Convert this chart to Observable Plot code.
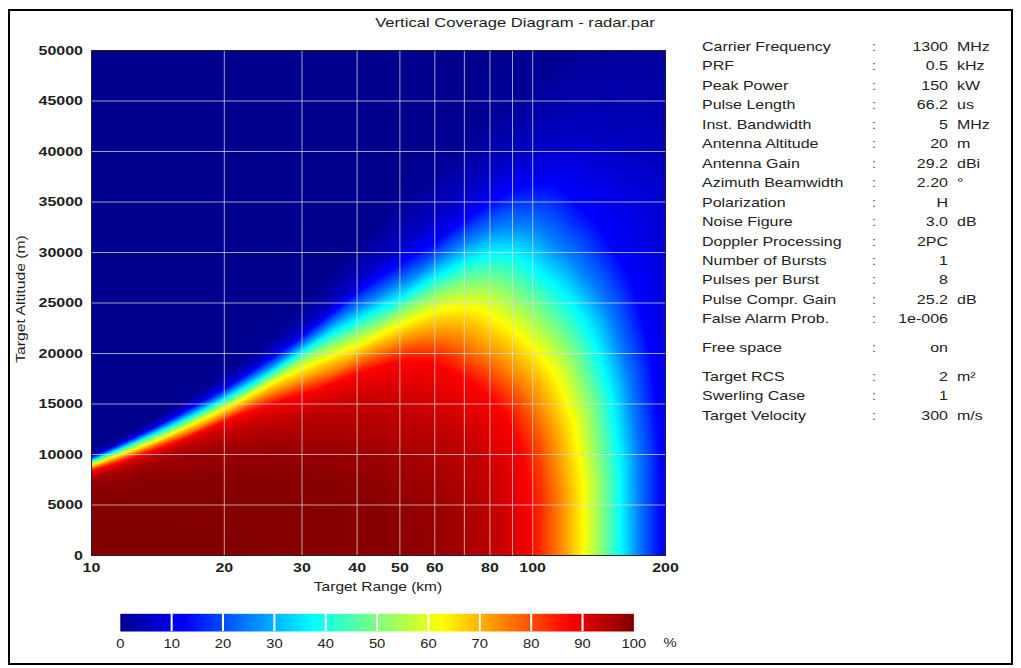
<!DOCTYPE html>
<html><head><meta charset="utf-8">
<script src="https://cdn.jsdelivr.net/npm/d3@7"></script>
<script src="https://cdn.jsdelivr.net/npm/@observablehq/plot@0.6"></script>
<style>
html,body{margin:0;padding:0;background:#fff;}
#page{position:relative;width:1021px;height:668px;overflow:hidden;background:#fff;font-family:"Liberation Sans",Arial,sans-serif;color:#222;}
#page svg{position:absolute;}
.lbl{position:absolute;white-space:nowrap;line-height:1;transform-origin:0 0;}
#border{position:absolute;left:8px;top:9px;width:1005px;height:656px;box-sizing:border-box;border:2px solid #000;pointer-events:none;z-index:5;}
</style></head><body><div id="page"><div id="border"></div></div>
<script>
// ---------------- data ----------------
// Axis ticks
const xTickLabels = [10, 20, 30, 40, 50, 60, 80, 100, 200];
const xGrid = [20, 30, 40, 50, 60, 70, 80, 90, 100];
const yTicks = [0, 5000, 10000, 15000, 20000, 25000, 30000, 35000, 40000, 45000, 50000];
const yGrid = [5000, 10000, 15000, 20000, 25000, 30000, 35000, 40000, 45000];
const legendTicks = [0, 10, 20, 30, 40, 50, 60, 70, 80, 90, 100];

// Probability-of-detection contours: [range km, altitude m]
// (a few points lie just outside the frame so the traced lines run off the edges)
const c99 = [[50,0],[49.5,2200],[47,4200],[42.5,5800],[37.5,7000],[32.5,7800],[28,8200],[24,8300],[20.4,8200],[16.2,7700],[13.2,7200],[10.7,6700],[7.8,5700],[5.6,4600]];
const c97 = [[66,0],[65.5,3000],[62,5500],[56,7500],[49,9000],[42,10000],[35,10500],[29,10800],[24,10700],[20,10400],[17.4,10000],[14.1,9100],[10.3,7500],[7.4,6000],[5.1,4600]];
const c93 = [[85,0],[84.5,4000],[80.5,7800],[73.5,10800],[65,12800],[57,14000],[50,15000],[42.6,15300],[34.7,14800],[27.5,13600],[22.4,12800],[18.1,11700],[13.3,9600],[9.6,7800],[6.6,6000]];
const c875 = [[99,0],[98.9,5200],[95.1,10000],[87.1,13800],[76.9,16300],[66.9,17900],[58.8,19100],[49.6,19100],[40.4,18000],[32,16300],[26.1,15100],[21.1,13700],[15.5,11200],[11.2,9000],[7.7,7000],[4.5,4500]];
const c75 = [[114.8,0],[114.6,6000],[109.2,11500],[99.1,15700],[86.6,18400],[75.4,20200],[66.2,21500],[55.9,21500],[45.5,20300],[36.1,18400],[29.4,17000],[23.7,15400],[17.4,12600],[12.6,10200],[8.7,7800],[5.1,5100]];
const c625 = [[130.4,0],[130.2,6600],[124,13000],[112.5,17800],[98.3,20900],[85.6,22900],[75.1,24400],[63.5,24400],[51.7,23000],[40.9,20900],[33.4,19300],[27,17500],[19.8,14400],[14.3,11500],[9.9,8900],[5.8,5800]];
const c50 = [[144.2,0],[144,7500],[137.2,14400],[124.4,19700],[108.7,23100],[94.7,25400],[83.1,27000],[70.2,27000],[57.2,25500],[45.3,23100],[37,21400],[29.8,19400],[21.9,15900],[15.8,12800],[10.9,9800],[6.4,6400]];
const c375 = [[158.2,0],[158,8200],[150.6,15800],[136.6,21600],[119.3,25400],[103.8,27800],[91.2,29600],[77,29600],[62.7,27900],[49.7,25300],[40.6,23400],[32.7,21200],[24,17400],[17.3,14000],[12,10800],[7,7000]];
const c25 = [[173.8,0],[173.6,9100],[165.3,17300],[150,23700],[131,27900],[114.1,30600],[100.1,32500],[84.6,32500],[68.9,30700],[54.6,27800],[44.6,25700],[35.9,23300],[26.3,19100],[19,15400],[13.2,11900],[7.7,7700]];
const c125 = [[195.3,0],[195,10200],[185.7,19500],[168.5,26700],[147.2,31300],[128.2,34400],[112.5,36600],[95,36500],[77.4,34500],[61.3,31200],[50.1,28900],[40.4,26200],[29.6,21500],[21.4,17300],[14.8,13300],[8.7,8700]];
const c6 = [[6.5,6800],[9.5,9500],[16.2,14600],[23.4,18900],[32.4,23500],[44.2,28700],[55,32000],[67,35000],[84,38300],[104,40500],[125,41000],[145,40500],[170,39300],[200,37500],[215,30000],[222,15000],[225,0]];
const c3 = [[6.9,7300],[10.3,10300],[17.5,15900],[25.3,20700],[35,26000],[47,32000],[58,35500],[72,39000],[90,42500],[110,44500],[135,45500],[165,45500],[200,45000],[235,38000]];
const c1 = [[7.6,8000],[10.5,10600],[18,16500],[26,21500],[36,27500],[48,33500],[60,37500],[75,41500],[95,45500],[120,48500],[140,50000],[172.5,50800],[206,51300],[260,50000]];

// Radar parameter panel
const paramLabels = ["Carrier Frequency","PRF","Peak Power","Pulse Length","Inst. Bandwidth","Antenna Altitude","Antenna Gain","Azimuth Beamwidth","Polarization","Noise Figure","Doppler Processing","Number of Bursts","Pulses per Burst","Pulse Compr. Gain","False Alarm Prob.","Free space","Target RCS","Swerling Case","Target Velocity"];
const paramValues = ["1300","0.5","150","66.2","5","20","29.2","2.20","H","3.0","2PC","1","8","25.2","1e-006","on","2","1","300"];
const paramUnits = ["MHz","kHz","kW","us","MHz","m","dBi","°","","dB","","","","dB","","","m²","","m/s"];

// Jet colour map
const jetStops = [0, 12.5, 37.5, 62.5, 87.5, 100];
const jetColors = ["#00008f", "#0000ff", "#00ffff", "#ffff00", "#ff0000", "#800000"];

// ---------------- rendering ----------------
const S = 1.23; // horizontal stretch of the text in the reference
const page = document.getElementById("page");
function label(text, x, y, {anchor = "start", size = 13, weight = "normal", rotate = 0, color = "#222"} = {}) {
  const d = document.createElement("div");
  d.className = "lbl";
  d.textContent = text;
  d.style.left = x + "px";
  d.style.top = y + "px";
  d.style.fontSize = size + "px";
  d.style.fontWeight = weight;
  d.style.color = color;
  const tx = anchor === "middle" ? "-50%" : anchor === "end" ? "-100%" : "0";
  d.style.transform = `rotate(${rotate}deg) scaleX(${S}) translate(${tx}, -50%)`;
  page.appendChild(d);
}
function stretch(svg, s) {
  svg.querySelectorAll("text").forEach((t) => {
    const x = parseFloat(t.getAttribute("x")) || 0;
    const tr = t.getAttribute("transform") || "";
    t.setAttribute("transform", `${tr} translate(${x},0) scale(${s},1) translate(${-x},0)`);
  });
}

// Traced contours in polar form (elevation angle, distance), used to shade between them
const contourSets = [[99, c99], [97, c97], [93, c93], [87.5, c875], [75, c75], [62.5, c625], [50, c50], [37.5, c375], [25, c25], [12.5, c125], [6, c6], [3, c3], [1, c1]];
const polar = contourSets.map(([p, pts]) => ({
  p,
  q: pts.map(([r, h]) => [Math.atan2(h / 1000, r), Math.hypot(r, h / 1000)]).sort((a, b) => a[0] - b[0])
}));
function radiusAt(q, t) {
  const n = q.length;
  if (t <= q[0][0]) return q[0][1];
  if (t >= q[n - 1][0]) return q[n - 1][1];
  for (let i = 1; i < n; ++i) {
    if (t <= q[i][0]) {
      const [t0, d0] = q[i - 1], [t1, d1] = q[i];
      return d0 + (d1 - d0) * (t - t0) / (t1 - t0);
    }
  }
  return q[n - 1][1];
}
function pdAt(r, h) {
  const t = Math.atan2(h / 1000, r), d = Math.hypot(r, h / 1000);
  let prevD = 0, prevP = 100;
  for (const {p, q} of polar) {
    const dl = Math.max(radiusAt(q, t), prevD);
    if (d <= dl) return dl > prevD ? prevP + (p - prevP) * (d - prevD) / (dl - prevD) : p;
    prevD = dl; prevP = p;
  }
  return Math.max(0, prevP * (1 - (d - prevD) / (0.25 * prevD)));
}

const colorScale = {type: "linear", domain: jetStops, range: jetColors, interpolate: "rgb"};

const main = Plot.plot({
  width: 700, height: 600,
  marginLeft: 91, marginRight: 35, marginTop: 50, marginBottom: 45,
  style: {background: "transparent", fontFamily: "'Liberation Sans', Arial, sans-serif", fontSize: "13px", fontWeight: "bold", color: "#1e1e1e"},
  x: {type: "log", domain: [10, 200], ticks: xTickLabels, tickFormat: (d) => String(d), tickSize: 0, tickPadding: 7.5, label: null},
  y: {domain: [0, 50000], ticks: yTicks, tickFormat: (d) => String(d), tickSize: 0, tickPadding: 8.5, label: null},
  color: colorScale,
  marks: [
    Plot.raster({x1: 10, x2: 200, y1: 0, y2: 50000, fill: (r, h) => pdAt(r, h)}),
    Plot.ruleX(xGrid, {stroke: "#d8d8d8", strokeOpacity: 0.75}),
    Plot.ruleY(yGrid, {stroke: "#d8d8d8", strokeOpacity: 0.75}),
    Plot.frame({stroke: "#202038"})
  ]
});
stretch(main, S);
main.style.left = "0px";
main.style.top = "0px";
page.appendChild(main);

const legendSamples = legendTicks.flatMap((v) => [{v, y: 0}, {v, y: 1}]);
const legend = Plot.plot({
  width: 600, height: 60,
  marginLeft: 19.8, marginRight: 66.6, marginTop: 13.3, marginBottom: 29,
  style: {background: "transparent", fontFamily: "'Liberation Sans', Arial, sans-serif", fontSize: "12px", fontWeight: "normal", color: "#222"},
  x: {domain: [0, 100], ticks: legendTicks, tickFormat: (d) => String(d), tickSize: 0, tickPadding: 7.5, label: null},
  y: {domain: [0, 1], axis: null},
  color: colorScale,
  marks: [
    Plot.raster(legendSamples, {x: "v", y: "y", fill: "v", x1: 0, x2: 100, y1: 0, y2: 1, interpolate: "barycentric"}),
    Plot.ruleX(legendTicks.slice(1, -1), {stroke: "white", strokeWidth: 2})
  ]
});
stretch(legend, S);
legend.style.left = "100px";
legend.style.top = "600px";
page.appendChild(legend);

// Texts
label("Vertical Coverage Diagram - radar.par", 515, 22.5, {anchor: "middle", size: 13.5});
label("Target Range (km)", 378, 586.5, {anchor: "middle", size: 12.6});
label("Target Altitude (m)", 21, 299, {anchor: "middle", size: 12.8, rotate: -90});
label("%", 669.8, 643.3, {anchor: "middle", size: 12});

const rowY = (i) => i < 15 ? 46 + 19.45 * i : i === 15 ? 346.7 : 375.7 + 19.4 * (i - 16);
paramLabels.forEach((name, i) => {
  const y = rowY(i);
  label(name, 701.5, y);
  label(":", 874, y, {anchor: "middle", color: "#555"});
  label(paramValues[i], 947.5, y, {anchor: "end"});
  if (paramUnits[i]) label(paramUnits[i], 957, y);
});
</script></body></html>
